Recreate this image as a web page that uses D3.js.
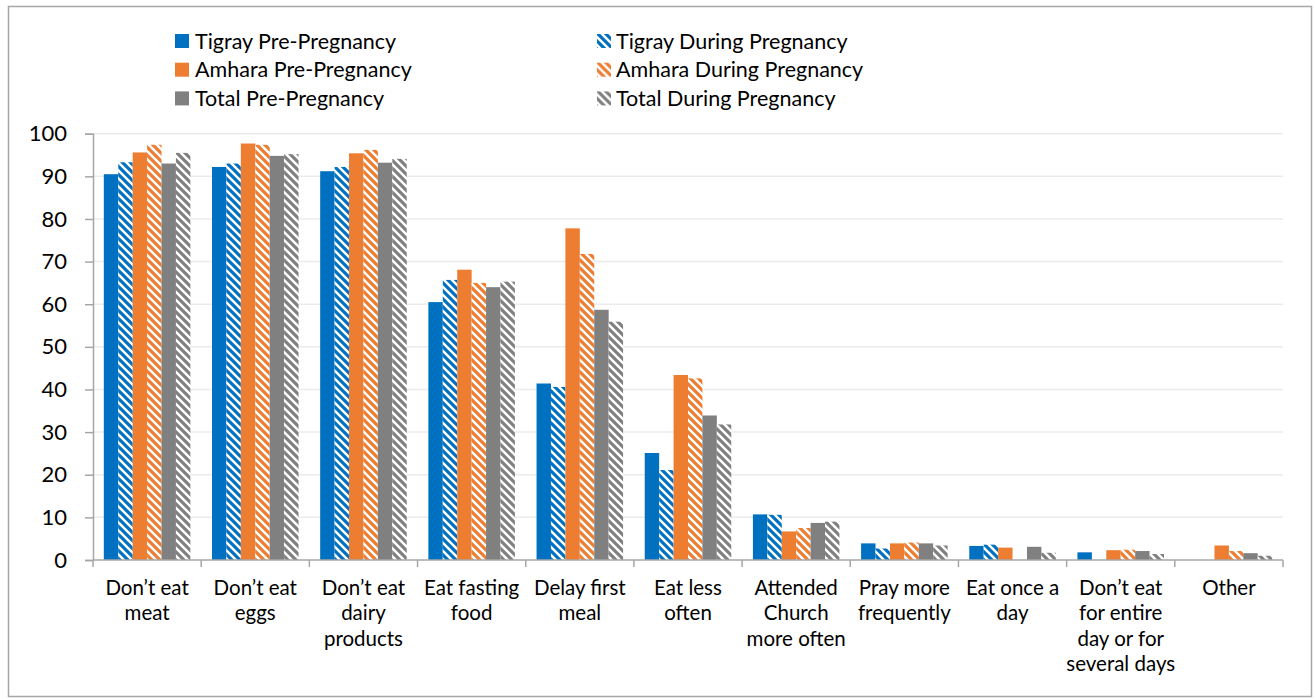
<!DOCTYPE html>
<html>
<head>
<meta charset="utf-8">
<script src="https://cdn.jsdelivr.net/npm/d3@7"></script>
<style>
  html, body { margin: 0; padding: 0; background: #fff; }
  svg { display: block; }
  text { font-family: Lato, "Noto Sans", sans-serif; fill: #000; }
</style>
</head>
<body>
<svg id="chart" width="1315" height="700"></svg>
<script>
// Fasting practices, pre-pregnancy vs during pregnancy (%)
const categories = [
  "Don’t eat\nmeat",
  "Don’t eat\neggs",
  "Don’t eat\ndairy\nproducts",
  "Eat fasting\nfood",
  "Delay first\nmeal",
  "Eat less\noften",
  "Attended\nChurch\nmore often",
  "Pray more\nfrequently",
  "Eat once a\nday",
  "Don’t eat\nfor entire\nday or for\nseveral days",
  "Other"
];

const seriesNames = [
  "Tigray Pre-Pregnancy", "Tigray During Pregnancy",
  "Amhara Pre-Pregnancy", "Amhara During Pregnancy",
  "Total Pre-Pregnancy", "Total During Pregnancy"
];

const tigrayPre    = [90.5, 92.2, 91.2, 60.5, 41.4, 25.1, 10.7, 3.9, 3.3, 1.8, 0];
const tigrayDuring = [93.3, 93.0, 92.2, 65.7, 40.6, 21.1, 10.6, 2.7, 3.6, 0, 0];
const amharaPre    = [95.6, 97.7, 95.4, 68.1, 77.8, 43.4, 6.7, 3.9, 2.9, 2.3, 3.4];
const amharaDuring = [97.4, 97.4, 96.2, 65.0, 71.8, 42.6, 7.5, 4.1, 0, 2.4, 2.1];
const totalPre     = [93.0, 94.8, 93.2, 64.0, 58.7, 33.9, 8.7, 3.9, 3.1, 2.1, 1.6];
const totalDuring  = [95.5, 95.2, 94.1, 65.3, 55.9, 31.8, 9.0, 3.4, 1.7, 1.4, 1.0];

const yTicks = [0, 10, 20, 30, 40, 50, 60, 70, 80, 90, 100];

const seriesValues = [tigrayPre, tigrayDuring, amharaPre, amharaDuring, totalPre, totalDuring];
const seriesColors = ["#0070C0", "#0070C0", "#ED7D31", "#ED7D31", "#808080", "#808080"];
const seriesHatched = [false, true, false, true, false, true];

const svg = d3.select("#chart");

// Chart frame
svg.append("rect")
  .attr("x", 8.5).attr("y", 6.5)
  .attr("width", 1303).attr("height", 690)
  .attr("fill", "#fff")
  .attr("stroke", "#a6a6a6")
  .attr("stroke-width", 1.5);

// Diagonal stripe fills for the "during pregnancy" series
const defs = svg.append("defs");
seriesNames.forEach((name, i) => {
  if (!seriesHatched[i]) return;
  const p = defs.append("pattern")
    .attr("id", "hatch" + i)
    .attr("patternUnits", "userSpaceOnUse")
    .attr("width", 8).attr("height", 8);
  p.append("rect").attr("width", 8).attr("height", 8).attr("fill", "#fff");
  p.append("path")
    .attr("d", "M-2,-2 L10,10 M6,-2 L10,2 M-2,6 L2,10")
    .attr("stroke", seriesColors[i])
    .attr("stroke-width", 3.2)
    .attr("stroke-linecap", "square");
});

const plotLeft = 93, plotRight = 1283, plotTop = 133.7, plotBottom = 560;

const x0 = d3.scaleBand().domain(categories).range([plotLeft, plotRight]).padding(0);
const bw = x0.bandwidth();
const x1 = d3.scaleBand().domain(d3.range(seriesNames.length))
  .range([bw / 10, bw - bw / 10]).padding(0);
const y = d3.scaleLinear().domain([0, 100]).range([plotBottom, plotTop]);

// Horizontal gridlines
svg.append("g")
  .selectAll("line")
  .data(yTicks.filter(t => t > 0))
  .join("line")
  .attr("x1", plotLeft).attr("x2", plotRight)
  .attr("y1", d => y(d)).attr("y2", d => y(d))
  .attr("stroke", "#ebebeb")
  .attr("stroke-width", 1.5);

// Bars
const groups = svg.append("g")
  .selectAll("g")
  .data(seriesNames.map((n, i) => i))
  .join("g")
  .attr("fill", i => seriesHatched[i] ? `url(#hatch${i})` : seriesColors[i]);

groups.selectAll("rect")
  .data(i => seriesValues[i].map((v, k) => ({ s: i, c: categories[k], v })))
  .join("rect")
  .attr("x", d => x0(d.c) + x1(d.s))
  .attr("width", x1.bandwidth())
  .attr("y", d => y(d.v))
  .attr("height", d => y(0) - y(d.v));

// Y axis
const yAxis = svg.append("g")
  .attr("transform", `translate(${plotLeft},0)`)
  .call(d3.axisLeft(y).tickValues(yTicks).tickSize(8).tickPadding(18));
yAxis.select(".domain").attr("stroke", "#a6a6a6").attr("stroke-width", 1.5);
yAxis.selectAll(".tick line").attr("stroke", "#a6a6a6").attr("stroke-width", 1.5);
yAxis.selectAll(".tick text")
  .attr("font-size", 22)
  .attr("font-family", "Lato, 'Noto Sans', sans-serif")
  .attr("fill", "#000");

// X axis with tick marks at category boundaries
const xAxis = svg.append("g")
  .attr("transform", `translate(0,${plotBottom})`);
xAxis.append("line")
  .attr("x1", plotLeft).attr("x2", plotRight)
  .attr("stroke", "#a6a6a6").attr("stroke-width", 1.5);
xAxis.selectAll(".bound")
  .data(categories.concat([null]))
  .join("line")
  .attr("class", "bound")
  .attr("x1", (d, i) => plotLeft + i * bw)
  .attr("x2", (d, i) => plotLeft + i * bw)
  .attr("y1", 0).attr("y2", 7)
  .attr("stroke", "#a6a6a6").attr("stroke-width", 1.5);

const labels = xAxis.selectAll(".xlab")
  .data(categories)
  .join("text")
  .attr("class", "xlab")
  .attr("text-anchor", "middle")
  .attr("font-size", 20.5);
labels.each(function (d) {
  const t = d3.select(this);
  d.split("\n").forEach((line, i) => {
    t.append("tspan")
      .attr("x", x0(d) + bw / 2)
      .attr("y", 34.5 + i * 25.6)
      .text(line);
  });
});

// Legend
const legendX = [175, 597];
const legendY = [41, 69.7, 98.4];
const legend = svg.append("g")
  .selectAll("g")
  .data(seriesNames.map((n, i) => i))
  .join("g")
  .attr("transform", i => `translate(${legendX[i % 2]},${legendY[Math.floor(i / 2)]})`);
legend.append("rect")
  .attr("x", 0).attr("y", -7)
  .attr("width", 14).attr("height", 14)
  .attr("fill", i => seriesHatched[i] ? `url(#hatch${i})` : seriesColors[i]);
legend.append("text")
  .attr("x", i => i % 2 ? 19 : 20)
  .attr("dy", "0.35em")
  .attr("font-size", 21.5)
  .text(i => seriesNames[i]);
</script>
</body>
</html>
